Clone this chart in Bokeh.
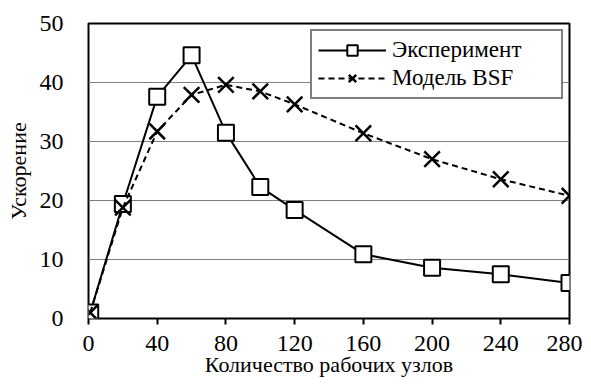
from bokeh.plotting import figure
from bokeh.models import Legend, LegendItem, FixedTicker
from bokeh.embed import file_html
from bokeh.resources import INLINE

nodes = [1, 20, 40, 60, 80, 100, 120, 160, 200, 240, 280]
experiment = [1, 19.4, 37.6, 44.6, 31.5, 22.3, 18.4, 10.9, 8.6, 7.5, 6.0]
model_bsf = [1, 18.8, 31.7, 37.9, 39.6, 38.5, 36.3, 31.4, 27.0, 23.6, 20.8]
x_ticks = [0, 40, 80, 120, 160, 200, 240, 280]
y_ticks = [0, 10, 20, 30, 40, 50]
label_exp = "Эксперимент"
label_bsf = "Модель BSF"

FONT = "Times New Roman"

p = figure(width=582, height=379, output_backend="svg", toolbar_location=None,
           x_range=(0, 280), y_range=(0, 50),
           min_border_left=88, min_border_right=13, min_border_top=23, min_border_bottom=61)

l1 = p.line(nodes, experiment, line_color="black", line_width=2)
m1 = p.scatter(nodes, experiment, marker="square", size=16, fill_color="white",
               line_color="black", line_width=2)
l2 = p.line(nodes, model_bsf, line_color="black", line_width=2, line_dash="6 4")
m2 = p.scatter(nodes, model_bsf, marker="x", size=22, line_color="black", line_width=2.5)

p.xaxis.ticker = FixedTicker(ticks=x_ticks)
p.yaxis.ticker = FixedTicker(ticks=y_ticks)
p.xgrid.grid_line_color = None
p.ygrid.grid_line_color = "#808080"
p.ygrid.grid_line_width = 1

p.outline_line_color = "black"
p.outline_line_width = 2
p.outline_line_alpha = 1

p.xaxis.axis_line_color = None
p.yaxis.axis_line_color = None
p.xaxis.minor_tick_line_color = None
p.yaxis.minor_tick_line_color = None

p.xaxis.major_label_text_font = FONT
p.yaxis.major_label_text_font = FONT
p.xaxis.major_label_text_font_size = "24px"
p.yaxis.major_label_text_font_size = "24px"
p.xaxis.major_label_text_color = "black"
p.yaxis.major_label_text_color = "black"

p.xaxis.axis_label = "Количество рабочих узлов"
p.yaxis.axis_label = "Ускорение"
p.xaxis.axis_label_text_font = FONT
p.yaxis.axis_label_text_font = FONT
p.xaxis.axis_label_text_font_size = "22px"
p.yaxis.axis_label_text_font_size = "22px"
p.xaxis.axis_label_text_font_style = "normal"
p.yaxis.axis_label_text_font_style = "normal"
p.xaxis.axis_label_text_color = "black"
p.yaxis.axis_label_text_color = "black"

p.xaxis.major_tick_line_color = "black"
p.xaxis.major_tick_line_width = 2
p.xaxis.major_tick_out = 6
p.xaxis.major_tick_in = 0
p.xaxis.major_label_standoff = 11
p.xaxis.axis_label_standoff = -2

p.yaxis.major_tick_line_color = None
p.yaxis.major_label_standoff = 19
p.yaxis.axis_label_standoff = 6

legend = Legend(items=[LegendItem(label=label_exp, renderers=[l1, m1]),
                       LegendItem(label=label_bsf, renderers=[l2, m2])],
                location="top_right",
                label_text_font=FONT, label_text_font_size="23px",
                label_text_color="black",
                border_line_color="black", border_line_width=2,
                background_fill_color="white", background_fill_alpha=1,
                glyph_width=68, glyph_height=26, label_height=26, label_width=163,
                spacing=2, padding=6, margin=6, label_standoff=6)
p.add_layout(legend)

open("out.html", "w").write(file_html(p, INLINE))
